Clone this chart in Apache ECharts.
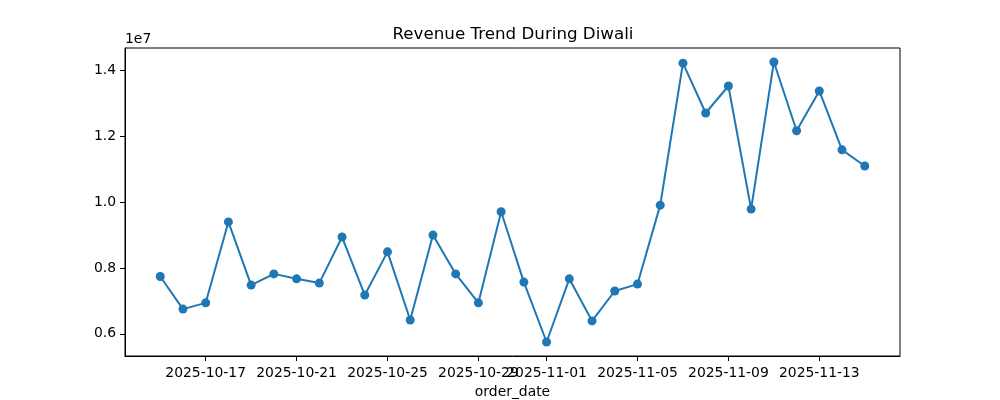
<!DOCTYPE html>
<html>
<head>
<meta charset="utf-8">
<script src="https://cdn.jsdelivr.net/npm/echarts@6/dist/echarts.min.js"></script>
<style>
  html, body { margin: 0; padding: 0; background: #fff; }
  #chart { width: 1000px; height: 400px; }
</style>
</head>
<body>
<div id="chart"></div>
<script>
// daily revenue, 2025-10-15 .. 2025-11-15
const dates = [
  '2025-10-15', '2025-10-16', '2025-10-17', '2025-10-18', '2025-10-19', '2025-10-20',
  '2025-10-21', '2025-10-22', '2025-10-23', '2025-10-24', '2025-10-25', '2025-10-26',
  '2025-10-27', '2025-10-28', '2025-10-29', '2025-10-30', '2025-10-31', '2025-11-01',
  '2025-11-02', '2025-11-03', '2025-11-04', '2025-11-05', '2025-11-06', '2025-11-07',
  '2025-11-08', '2025-11-09', '2025-11-10', '2025-11-11', '2025-11-12', '2025-11-13',
  '2025-11-14', '2025-11-15'
];
const revenue = [
  7740000, 6750000, 6940000, 9400000, 7480000, 7820000,
  7670000, 7540000, 8940000, 7180000, 8490000, 6420000,
  9000000, 7820000, 6940000, 9710000, 7570000, 5750000,
  7670000, 6390000, 7300000, 7510000, 9910000, 14225000,
  12710000, 13530000, 9790000, 14260000, 12170000, 13380000,
  11590000, 11100000
];
const xTickLabels = ['2025-10-17', '2025-10-21', '2025-10-25', '2025-10-29', '2025-11-01', '2025-11-05', '2025-11-09', '2025-11-13'];
const yTicks = [6000000, 8000000, 10000000, 12000000, 14000000];

const toTs = (s) => {
  const p = s.split('-').map(Number);
  return Date.UTC(p[0], p[1] - 1, p[2]);
};
const pad = (n) => String(n).padStart(2, '0');
const fmtDate = (ts) => {
  const d = new Date(ts);
  return d.getUTCFullYear() + '-' + pad(d.getUTCMonth() + 1) + '-' + pad(d.getUTCDate());
};

// matplotlib style 5% margins
const xs = dates.map(toTs);
const xMinD = Math.min(...xs), xMaxD = Math.max(...xs);
const xPad = (xMaxD - xMinD) * 0.05;
const yMinD = Math.min(...revenue), yMaxD = Math.max(...revenue);
const yPad = (yMaxD - yMinD) * 0.05;

const xTicks = xTickLabels.map(toTs);
const font = 'DejaVu Sans';
const fs = 13.9;

const chart = echarts.init(document.getElementById('chart'));
const option = {
  animation: false,
  backgroundColor: '#fff',
  title: {
    text: 'Revenue Trend During Diwali',
    left: 508,
    textAlign: 'center',
    top: 21,
    textStyle: { fontFamily: font, fontSize: 16.7, fontWeight: 'normal', color: '#000' }
  },
  graphic: [{
    type: 'text',
    left: 125,
    top: 32,
    style: { text: '1e7', font: fs + 'px "DejaVu Sans"', fill: '#000' }
  }],
  grid: {
    left: 125, right: 100, top: 48, bottom: 44,
    outerBoundsMode: 'none',
    show: true, borderColor: '#000', borderWidth: 1
  },
  xAxis: {
    type: 'value',
    min: xMinD - xPad,
    max: xMaxD + xPad,
    name: 'order_date',
    nameLocation: 'middle',
    nameGap: 29,
    nameTextStyle: { fontFamily: font, fontSize: fs, color: '#000' },
    splitLine: { show: false },
    axisLine: { show: true, lineStyle: { color: '#000' } },
    axisTick: { show: true, length: 5, lineStyle: { color: '#000' }, customValues: xTicks },
    axisLabel: {
      fontFamily: font, fontSize: fs, color: '#000', margin: 10,
      customValues: xTicks,
      formatter: (v) => fmtDate(v)
    }
  },
  yAxis: {
    type: 'value',
    min: yMinD - yPad,
    max: yMaxD + yPad,
    splitLine: { show: false },
    axisLine: { show: true, lineStyle: { color: '#000' } },
    axisTick: { show: true, length: 5, lineStyle: { color: '#000' }, customValues: yTicks },
    axisLabel: {
      fontFamily: font, fontSize: fs, color: '#000', margin: 9,
      customValues: yTicks,
      formatter: (v) => (v / 1e7).toFixed(1)
    }
  },
  series: [{
    type: 'line',
    data: xs.map((x, i) => [x, revenue[i]]),
    symbol: 'circle',
    symbolSize: 9,
    itemStyle: { color: '#1f77b4' },
    lineStyle: { color: '#1f77b4', width: 2 }
  }]
};
chart.setOption(option);
</script>
</body>
</html>
